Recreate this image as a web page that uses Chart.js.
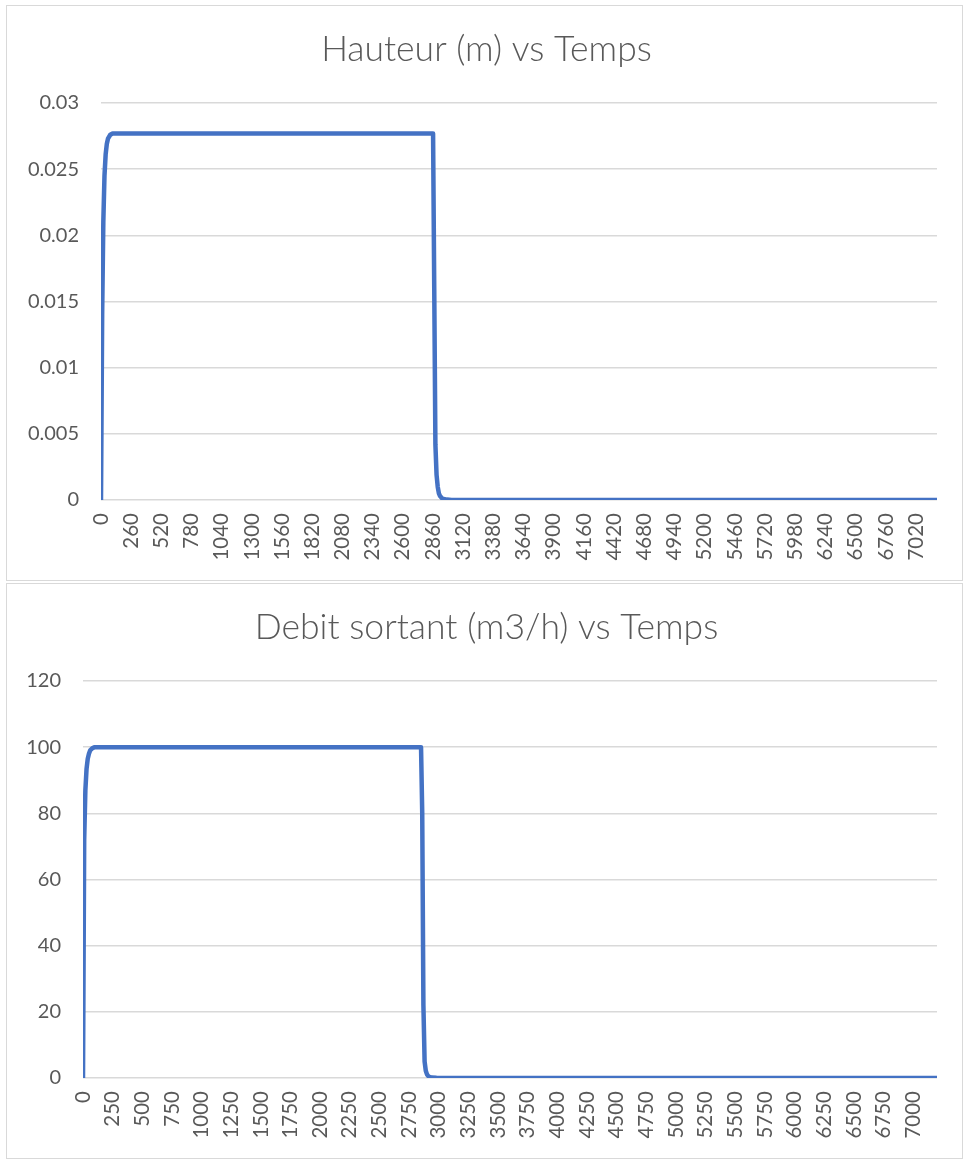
<!DOCTYPE html>
<html>
<head>
<meta charset="utf-8">
<script src="https://cdn.jsdelivr.net/npm/chart.js@4.4.1/dist/chart.umd.min.js"></script>
<style>
  html, body { margin: 0; padding: 0; background: #ffffff; }
  body { width: 964px; height: 1160px; position: relative; overflow: hidden; }
  .box { position: absolute; left: 6px; width: 955px; height: 574px; border: 1px solid #d9d9d9; background: #ffffff; }
  #boxHauteur { top: 5px; }
  #boxDebit { top: 583px; }
</style>
</head>
<body>
<div class="box" id="boxHauteur"><canvas id="chartHauteur"></canvas></div>
<div class="box" id="boxDebit"><canvas id="chartDebit"></canvas></div>
<script>
// Hauteur d'eau (m) relevée en fonction du temps (s)
const tempsHauteur = [0, 10, 20, 30, 40, 50, 60, 80, 100, 2860, 2870, 2880, 2890, 2900, 2910, 2920, 2940, 2980, 3020, 7200];
const hauteur = [0, 0.0140, 0.0210, 0.0245, 0.0261, 0.0269, 0.0273, 0.0276, 0.0277, 0.0277, 0.0160, 0.0042, 0.0019, 0.0010, 0.0005, 0.0003, 0.0001, 0.00003, 0, 0];

// Débit sortant (m3/h) en fonction du temps (s)
const tempsDebit = [0, 10, 20, 30, 40, 50, 60, 80, 100, 2850, 2860, 2870, 2880, 2890, 2900, 2910, 2920, 2940, 2980, 3020, 7200];
const debit = [0, 72, 87, 93.5, 96.5, 98, 99, 99.7, 100, 100, 80, 22, 5, 2.2, 1.1, 0.6, 0.35, 0.12, 0.04, 0, 0];

// Graduations des axes
const ticksTempsHauteur = [0, 260, 520, 780, 1040, 1300, 1560, 1820, 2080, 2340, 2600, 2860, 3120, 3380, 3640, 3900, 4160, 4420, 4680, 4940, 5200, 5460, 5720, 5980, 6240, 6500, 6760, 7020];
const ticksTempsDebit = [0, 250, 500, 750, 1000, 1250, 1500, 1750, 2000, 2250, 2500, 2750, 3000, 3250, 3500, 3750, 4000, 4250, 4500, 4750, 5000, 5250, 5500, 5750, 6000, 6250, 6500, 6750, 7000];
const ticksHauteur = [0, 0.005, 0.01, 0.015, 0.02, 0.025, 0.03];
const ticksDebit = [0, 20, 40, 60, 80, 100, 120];
const tempsFin = 7200;

const GRIS_TEXTE = '#595959';
const BLEU = '#4472C4';
const POLICE = 'Lato, "Open Sans", sans-serif';
const MARGE_GAUCHE = 4;
const MARGE_DROITE = 25;

function courbe(canvasId, titre, temps, valeurs, ticksX, ticksY, largeurAxeY) {
  const points = temps.map((t, i) => ({ x: t, y: valeurs[i] }));
  return new Chart(document.getElementById(canvasId), {
    type: 'line',
    data: {
      datasets: [{
        data: points,
        borderColor: BLEU,
        borderWidth: 4.5,
        pointRadius: 0,
        fill: false,
        tension: 0,
        borderJoinStyle: 'round',
        borderCapStyle: 'round'
      }]
    },
    options: {
      responsive: true,
      maintainAspectRatio: false,
      animation: false,
      devicePixelRatio: 1,
      layout: { padding: { left: MARGE_GAUCHE, right: 0, top: 0, bottom: 0 } },
      plugins: {
        legend: { display: false },
        tooltip: { enabled: false },
        title: {
          display: true,
          text: titre,
          color: GRIS_TEXTE,
          font: { family: POLICE, size: 35.5, weight: '300', lineHeight: 1.2 },
          padding: { top: 22, bottom: 32.4 }
        }
      },
      scales: {
        x: {
          type: 'linear',
          min: 0,
          max: tempsFin,
          grid: { display: false, drawTicks: false },
          border: { display: false },
          afterBuildTicks: s => { s.ticks = ticksX.map(v => ({ value: v })); },
          afterFit: s => { s.height = 80; },
          ticks: {
            autoSkip: false,
            maxRotation: 90,
            minRotation: 90,
            padding: 13,
            color: GRIS_TEXTE,
            font: { family: POLICE, size: 20.5 },
            callback: v => String(v)
          }
        },
        y: {
          min: 0,
          max: ticksY[ticksY.length - 1],
          afterBuildTicks: s => { s.ticks = ticksY.map(v => ({ value: v })); },
          afterFit: s => { s.width = largeurAxeY - MARGE_GAUCHE; },
          grid: { color: '#d9d9d9', lineWidth: 1.5, drawTicks: false },
          border: { display: false },
          ticks: {
            padding: 22,
            color: GRIS_TEXTE,
            font: { family: POLICE, size: 20 },
            callback: v => String(+v.toFixed(4))
          }
        },
        marge: {
          type: 'linear',
          position: 'right',
          min: 0,
          max: 1,
          grid: { display: false, drawTicks: false },
          border: { display: false },
          ticks: { display: false },
          afterFit: s => { s.width = MARGE_DROITE; }
        }
      }
    }
  });
}

courbe('chartHauteur', 'Hauteur (m) vs Temps', tempsHauteur, hauteur, ticksTempsHauteur, ticksHauteur, 94);
courbe('chartDebit', 'Debit sortant (m3/h) vs Temps', tempsDebit, debit, ticksTempsDebit, ticksDebit, 76);
</script>
</body>
</html>
